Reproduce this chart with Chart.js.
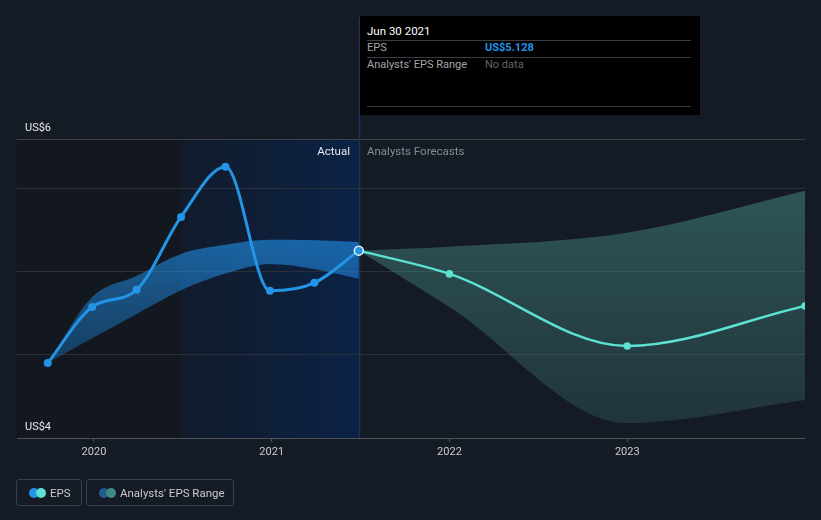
<!DOCTYPE html>
<html>
<head>
<meta charset="utf-8">
<script src="https://cdn.jsdelivr.net/npm/chart.js@4.4.1/dist/chart.umd.min.js"></script>
<style>
  html, body { margin:0; padding:0; background:#151b25; width:821px; height:520px; overflow:hidden; font-family: Roboto, "Noto Sans", Arial, sans-serif; }
  #wrap { position:relative; width:821px; height:520px; }
  canvas { position:absolute; left:0; top:0; }
  .ov { position:absolute; white-space:nowrap; font-size:11px; line-height:14px; }
  #tip { position:absolute; left:360px; top:16px; width:340px; height:99px; background:#000; }
  #tip .hr { position:absolute; left:7px; width:324px; height:1px; background:#3a3d44; }
  .pill { position:absolute; top:479px; height:27px; border:1px solid #3b404a; border-radius:3px; box-sizing:border-box; }
  .dot { position:absolute; top:8px; width:10px; height:10px; border-radius:50%; }
  .ptxt { position:absolute; top:6px; font-size:11.5px; line-height:14px; color:#c8cacd; white-space:nowrap; }
</style>
</head>
<body>
<div id="wrap">
  <canvas id="c" width="821" height="520"></canvas>
  <div class="ov" style="right:471px; top:144px; color:#e6e8ea; font-size:11.5px;">Actual</div>
  <div class="ov" style="left:367px; top:144px; color:#878c94; font-size:11.5px;">Analysts Forecasts</div>
  <div id="tip">
    <div class="ov" style="left:7px; top:8px; color:#ffffff; font-size:11.5px;">Jun 30 2021</div>
    <div class="hr" style="top:24px;"></div>
    <div class="ov" style="left:7px; top:25px; color:#a3a6ab;">EPS</div>
    <div class="ov" style="left:125px; top:25px; color:#2394e6; font-weight:bold;">US$5.128</div>
    <div class="hr" style="top:41px;"></div>
    <div class="ov" style="left:7px; top:42px; color:#a3a6ab;">Analysts' EPS Range</div>
    <div class="ov" style="left:125px; top:42px; color:#61646a;">No data</div>
    <div class="hr" style="top:90px;"></div>
  </div>
  <div class="pill" style="left:16px; width:66px;">
    <div class="dot" style="left:12px; background:#2394e6;"></div>
    <div class="dot" style="left:19px; background:#5ce1d2;"></div>
    <div class="ptxt" style="left:33px;">EPS</div>
  </div>
  <div class="pill" style="left:86px; width:148px;">
    <div class="dot" style="left:12px; background:#215d8c;"></div>
    <div class="dot" style="left:19px; background:#3f8a84;"></div>
    <div class="ptxt" style="left:33px;">Analysts' EPS Range</div>
  </div>
</div>
<script>
// ---- data ----
const pastDates = [2019.74, 2019.99, 2020.24, 2020.49, 2020.74, 2020.99, 2021.24, 2021.49];
const pastEPS   = [4.452, 4.789, 4.892, 5.331, 5.633, 4.886, 4.934, 5.128];
const pastRangeLow  = [4.452, 4.60, 4.747, 4.89, 4.99, 5.048, 5.018, 4.958];
const pastRangeHigh = [4.452, 4.849, 4.976, 5.108, 5.163, 5.193, 5.19, 5.18];
const fcDates = [2021.49, 2022.0, 2023.0, 2024.0];
const fcEPS   = [5.128, 4.988, 4.554, 4.795];
const fcRangeLow  = [5.128, 4.789, 4.09, 4.229];
const fcRangeHigh = [5.128, 5.151, 5.235, 5.488];
const xTicks = [2020, 2021, 2022, 2023];
const yGrid = [4, 4.5, 5, 5.5, 5.8];
const yLabels = {4: 'US$4', 5.8: 'US$6'};
const highlightStart = 2020.49, todayX = 2021.49;

const pts = (xs, ys) => xs.map((x, i) => ({x, y: ys[i]}));

function vGrad(ctx, area, y0, y1, c0, c1) {
  if (!area) return c0;
  const g = ctx.createLinearGradient(0, y0, 0, y1);
  g.addColorStop(0, c0); g.addColorStop(1, c1);
  return g;
}

const regions = {
  id: 'regions',
  beforeDraw(chart) {
    const {ctx, chartArea: a, scales: {x}} = chart;
    const xh = x.getPixelForValue(highlightStart), xt = x.getPixelForValue(todayX);
    ctx.save();
    ctx.fillStyle = 'rgba(0,0,0,0.12)';
    ctx.fillRect(a.left, a.top, xh - a.left, a.bottom - a.top);
    const g = ctx.createLinearGradient(xh, 0, xt, 0);
    g.addColorStop(0, '#111b2b'); g.addColorStop(1, '#0c2245');
    ctx.fillStyle = g;
    ctx.fillRect(xh, a.top, xt - xh, a.bottom - a.top);
    ctx.restore();
  },
  beforeDatasetsDraw(chart) {
    const {ctx, chartArea: a, scales: {x}} = chart;
    const xt = Math.round(x.getPixelForValue(todayX)) + 0.5;
    ctx.save();
    ctx.strokeStyle = '#1b3558';
    ctx.lineWidth = 1.5;
    ctx.beginPath(); ctx.moveTo(xt, 17); ctx.lineTo(xt, a.bottom); ctx.stroke();
    ctx.restore();
  }
};

new Chart(document.getElementById('c'), {
  type: 'line',
  data: {
    datasets: [
      { data: pts(pastDates, pastEPS), borderColor: '#2394e6', borderWidth: 3,
        pointRadius: pastDates.map((d, i) => i === pastDates.length - 1 ? 4.5 : 4),
        pointBackgroundColor: '#2394e6',
        pointBorderColor: pastDates.map((d, i) => i === pastDates.length - 1 ? '#e8f2fb' : '#2394e6'),
        pointBorderWidth: pastDates.map((d, i) => i === pastDates.length - 1 ? 1.5 : 0),
        cubicInterpolationMode: 'monotone', fill: false },
      { data: pts(fcDates, fcEPS), borderColor: '#5ce1d2', borderWidth: 2.5,
        pointRadius: fcDates.map((d, i) => i === 0 ? 0 : 3.8), pointBackgroundColor: '#5ce1d2', pointBorderWidth: 0,
        cubicInterpolationMode: 'monotone', fill: false, clip: 0 },
      { data: pts(pastDates, pastRangeLow), borderWidth: 0, pointRadius: 0, cubicInterpolationMode: 'monotone', fill: false },
      { data: pts(pastDates, pastRangeHigh), borderWidth: 0, pointRadius: 0, cubicInterpolationMode: 'monotone', fill: '-1',
        backgroundColor: (c) => vGrad(c.chart.ctx, c.chart.chartArea, 240, 360, 'rgba(33,150,243,0.58)', 'rgba(33,150,243,0.3)') },
      { data: pts(fcDates, fcRangeLow), borderWidth: 0, pointRadius: 0, cubicInterpolationMode: 'monotone', fill: false, clip: 0 },
      { data: pts(fcDates, fcRangeHigh), borderWidth: 0, pointRadius: 0, cubicInterpolationMode: 'monotone', fill: '-1', clip: 0,
        backgroundColor: (c) => vGrad(c.chart.ctx, c.chart.chartArea, 190, 425, 'rgba(90,180,170,0.38)', 'rgba(90,180,170,0.17)') }
    ]
  },
  options: {
    responsive: false, animation: false, events: [],
    layout: { padding: { left: 17, right: 16, top: 139, bottom: 0 } },
    plugins: { legend: { display: false }, tooltip: { enabled: false } },
    scales: {
      x: {
        type: 'linear', min: 2019.567, max: 2024.0,
        afterBuildTicks: (s) => { s.ticks = xTicks.map(v => ({value: v})); },
        afterFit: (s) => { s.height = 82; },
        ticks: { color: '#c9cbce', font: { family: 'Roboto', size: 11 }, padding: 4, maxRotation: 0,
                 callback: (v) => String(v) },
        grid: { drawOnChartArea: false, drawTicks: true, tickLength: 4, color: '#4d525b' },
        border: { display: false }
      },
      y: {
        min: 4, max: 5.8,
        afterBuildTicks: (s) => { s.ticks = yGrid.map(v => ({value: v})); },
        afterFit: (s) => { s.width = 0; },
        ticks: { mirror: true, padding: 8, labelOffset: -11, color: '#e6e8ea', font: { family: 'Roboto', size: 11 },
                 callback: (v) => yLabels[v] || '' },
        grid: { drawTicks: false, lineWidth: 1,
                color: (c) => c.tick.value === 4 ? '#4d525b' : (c.tick.value === 5.8 ? '#3b4049' : '#2a2f39') },
        border: { display: false }
      }
    }
  },
  plugins: [regions]
});
</script>
</body>
</html>
